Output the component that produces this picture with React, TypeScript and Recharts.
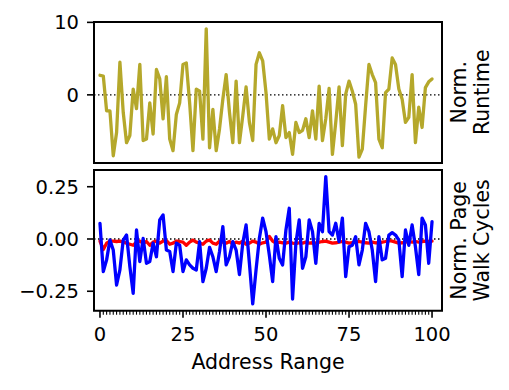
import React from 'react';
import { LineChart, Line, XAxis, YAxis, ReferenceLine, ReferenceArea, Label } from 'recharts';

// ---------- data ----------
const addressRange: number[] = Array.from({ length: 101 }, (_, i) => i);

const normRuntime: number[] = [
  2.7, 2.6, -2.2, -2.2, -8.4, -5.2, 4.5, -2.4, -6.6, -5.6,
  0.8, -1.9, 4.2, -6.3, -6.1, -1.1, -5.4, 3.5, 2.2, -3.3,
  2.5, -6.1, -7.7, -2.7, -1.1, 4.2, 4.4, -1.1, -7.7, 0.8,
  0.5, -6.1, 9.1, -7.3, -2.0, -7.7, -4.7, -0.6, 2.8, -2.4,
  -6.6, 1.9, -6.6, -2.9, 1.1, -3.8, -6.3, 4.2, 5.8, 4.7,
  0.3, -6.1, -4.7, -6.6, -5.6, -1.5, -5.9, -5.2, -8.2, -3.8,
  -5.2, -4.9, -3.3, -5.9, -2.2, -6.1, 1.2, -6.3, -3.3, 0.9,
  -8.2, -3.8, 1.1, -7.0, 0.1, 1.9, 0.5, -1.3, -8.6, -7.5,
  -1.5, 4.2, 2.8, 1.7, -6.1, -7.3, 0.3, 0.8, 5.1, 4.2,
  0.8, -0.6, -3.8, -3.1, 2.8, -6.6, -1.7, -4.5, 1.0, 1.8,
  2.2,
];

const pageWalkBlue: number[] = [
  0.075, -0.156, -0.1, -0.005, -0.053, -0.22, -0.148, -0.005, 0.019, -0.132,
  -0.26, 0.043, -0.108, 0.003, -0.116, -0.108, -0.02, -0.085, 0.091, 0.115,
  -0.053, -0.06, -0.156, -0.02, -0.03, -0.156, -0.1, -0.124, -0.14, -0.148,
  -0.013, -0.204, -0.14, -0.04, -0.085, -0.156, -0.06, 0.059, -0.124, -0.085,
  -0.013, -0.053, -0.17, -0.02, 0.067, -0.116, -0.31, -0.148, 0.003, 0.1,
  0.035, -0.077, -0.204, 0.011, -0.092, -0.124, 0.043, 0.147, -0.287, -0.02,
  0.091, -0.14, -0.085, 0.091, 0.035, -0.116, 0.075, 0.035, 0.298, 0.035,
  0.019, 0.075, -0.013, 0.1, -0.18, -0.037, -0.03, 0.011, -0.124, -0.053,
  0.075, 0.035, -0.053, -0.204, 0.011, -0.1, -0.092, 0.019, 0.03, 0.019,
  -0.005, -0.18, 0.043, -0.03, 0.067, -0.037, -0.17, 0.1, 0.067, -0.116,
  0.083,
];

const pageWalkRed: number[] = [
  -0.01, -0.05, -0.02, -0.01, -0.01, -0.012, -0.01, -0.015, -0.02, -0.025,
  -0.03, -0.015, -0.01, -0.02, -0.012, -0.03, -0.015, -0.01, -0.02, -0.01,
  -0.008, -0.025, -0.02, -0.01, -0.012, -0.015, -0.03, -0.015, -0.005, -0.015,
  -0.02, -0.025, -0.01, -0.005, -0.02, -0.025, -0.01, -0.015, -0.02, -0.012,
  -0.025, -0.015, -0.02, -0.01, -0.025, -0.02, -0.01, -0.015, -0.025, -0.018,
  -0.015, 0.012, -0.01, -0.02, -0.015, -0.018, -0.02, -0.015, -0.02, -0.022,
  -0.018, -0.02, -0.015, -0.02, -0.018, -0.02, -0.015, -0.012, -0.01, -0.015,
  -0.02, -0.018, -0.015, -0.012, -0.015, -0.02, -0.018, -0.015, -0.012, -0.015,
  -0.018, -0.02, -0.015, -0.018, -0.02, -0.015, -0.012, -0.008, -0.01, -0.015,
  -0.02, -0.018, -0.015, -0.012, -0.015, -0.012, -0.015, -0.012, -0.01, -0.012,
  -0.01,
];

const runtimeTicks: number[] = [0, 10];
const pageWalkTicks: number[] = [-0.25, 0, 0.25];
const xMajorTicks: number[] = [0, 25, 50, 75, 100];
const xAllTicks: number[] = addressRange;

const data = addressRange.map((x, i) => ({
  x,
  runtime: normRuntime[i],
  blue: pageWalkBlue[i],
  red: pageWalkRed[i],
}));

// ---------- styling ----------
const FONT = '"DejaVu Sans", sans-serif';
const FS = 19.5;
const FS_LABEL = 20.5;
const X_DOMAIN: [number, number] = [-1.8, 103];
const TOP_DOMAIN: [number, number] = [-9.4, 10.05];
const BOT_DOMAIN: [number, number] = [-0.343, 0.33];
const OLIVE = '#b5a82b';
const LW = 3.3;

const minus = (s: string) => s.replace('-', '\u2212');

function XTick(props: any) {
  const { x, y, payload } = props;
  const v = payload.value;
  const major = xMajorTicks.includes(v);
  return (
    <g>
      <line x1={x} x2={x} y1={y} y2={y + (major ? 7 : 4)} stroke="#000" strokeWidth={major ? 1.6 : 1.1} />
      {major && (
        <text x={x} y={y + 30} textAnchor="middle" fontSize={FS} fontFamily={FONT} fill="#000">
          {v}
        </text>
      )}
    </g>
  );
}

function RightLabel({ lines, cy }: { lines: string[]; cy: number }) {
  const xs = [466, 489.5];
  return (
    <>
      {lines.map((t, i) => (
        <text
          key={t}
          x={xs[i]}
          y={cy}
          transform={`rotate(-90, ${xs[i]}, ${cy})`}
          textAnchor="middle"
          fontSize={FS_LABEL}
          fontFamily={FONT}
          fill="#000"
        >
          {t}
        </text>
      ))}
    </>
  );
}

export default function App() {
  const tickStyle = { fontSize: FS, fill: '#000', fontFamily: FONT };
  return (
    <div style={{ position: 'absolute', left: 0, top: 0, width: 509, height: 390, background: '#fff', fontFamily: FONT }}>
      <div style={{ position: 'absolute', left: 0, top: 0 }}>
        <LineChart width={509} height={170} data={data} margin={{ top: 22, right: 67, bottom: 7, left: 0 }}>
          <XAxis dataKey="x" type="number" domain={X_DOMAIN} hide allowDataOverflow />
          <YAxis
            type="number"
            domain={TOP_DOMAIN}
            ticks={runtimeTicks}
            allowDataOverflow
            width={94}
            axisLine={false}
            tickSize={7}
            tickMargin={8}
            tickLine={{ stroke: '#000', strokeWidth: 1.6 }}
            tick={tickStyle}
            tickFormatter={(v: number) => minus(String(v))}
          />
          <ReferenceLine y={0} stroke="#000" strokeDasharray="1.5 2.5" strokeWidth={1.3} />
          <Line type="linear" dataKey="runtime" stroke={OLIVE} strokeWidth={LW} strokeLinejoin="round" strokeLinecap="round" dot={false} isAnimationActive={false} />
          <ReferenceArea
            x1={X_DOMAIN[0]}
            x2={X_DOMAIN[1]}
            y1={TOP_DOMAIN[0]}
            y2={TOP_DOMAIN[1]}
            fill="none"
            fillOpacity={0}
            stroke="#000"
            strokeWidth={2}
            ifOverflow="visible"
          />
        </LineChart>
      </div>
      <div style={{ position: 'absolute', left: 0, top: 0 }}>
        <LineChart width={509} height={390} data={data} margin={{ top: 170, right: 67, bottom: 0, left: 0 }}>
          <XAxis
            dataKey="x"
            type="number"
            domain={X_DOMAIN}
            allowDataOverflow
            ticks={xAllTicks}
            interval={0}
            height={79.3}
            axisLine={false}
            tickLine={false}
            tickSize={0}
            tickMargin={0}
            tick={<XTick />}
          >
            <Label
              content={(p: any) => {
                const vb = p.viewBox || {};
                return (
                  <text x={268} y={(vb.y ?? 310.7) + 58.6} textAnchor="middle" fontSize={FS_LABEL} fontFamily={FONT} fill="#000">
                    Address Range
                  </text>
                );
              }}
            />
          </XAxis>
          <YAxis
            type="number"
            domain={BOT_DOMAIN}
            ticks={pageWalkTicks}
            allowDataOverflow
            width={94}
            axisLine={false}
            tickSize={7}
            tickMargin={8}
            tickLine={{ stroke: '#000', strokeWidth: 1.6 }}
            tick={tickStyle}
            tickFormatter={(v: number) => minus(v.toFixed(2))}
          />
          <ReferenceLine y={0} stroke="#000" strokeDasharray="1.5 2.5" strokeWidth={1.3} />
          <Line type="linear" dataKey="red" stroke="#ff0000" strokeWidth={LW} strokeLinejoin="round" strokeLinecap="round" dot={false} isAnimationActive={false} />
          <Line type="linear" dataKey="blue" stroke="#0000ff" strokeWidth={LW} strokeLinejoin="round" strokeLinecap="round" dot={false} isAnimationActive={false} />
          <ReferenceArea
            x1={X_DOMAIN[0]}
            x2={X_DOMAIN[1]}
            y1={BOT_DOMAIN[0]}
            y2={BOT_DOMAIN[1]}
            fill="none"
            fillOpacity={0}
            stroke="#000"
            strokeWidth={2}
            ifOverflow="visible"
          />
        </LineChart>
      </div>
      <svg width={509} height={390} style={{ position: 'absolute', left: 0, top: 0, pointerEvents: 'none' }}>
        <RightLabel lines={['Norm.', 'Runtime']} cy={92.2} />
        <RightLabel lines={['Norm. Page', 'Walk Cycles']} cy={240.4} />
      </svg>
    </div>
  );
}
